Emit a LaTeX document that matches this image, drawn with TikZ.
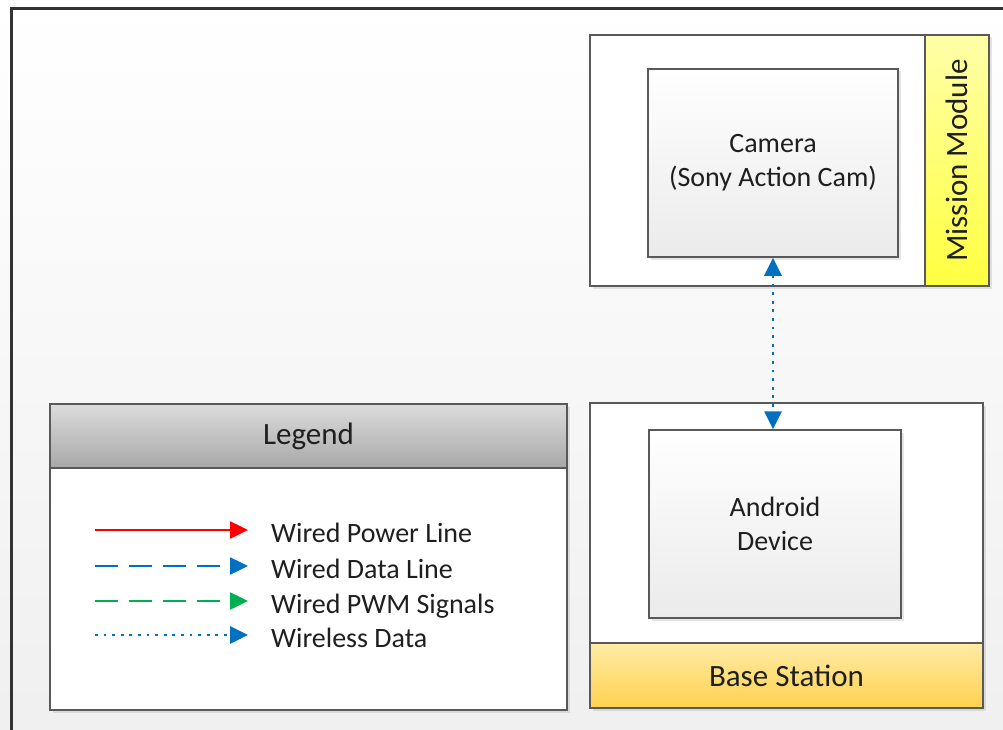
\documentclass[tikz,border=0pt]{standalone}
\usepackage{fontspec}
\setmainfont{Carlito}
\usetikzlibrary{arrows.meta,shadows}
\definecolor{linegray}{HTML}{595959}
\definecolor{txtgray}{HTML}{1F1F1F}
\definecolor{datablue}{HTML}{0070C0}
\definecolor{pwmgreen}{HTML}{00B050}
\definecolor{mmtop}{HTML}{FFFFA8}
\definecolor{mmbot}{HTML}{FFFF40}
\definecolor{bstop}{HTML}{FFEBA6}
\definecolor{bsbot}{HTML}{FFD24F}

\begin{document}
\begin{tikzpicture}[x=1pt,y=-1pt,
    font=\fontsize{28}{34}\selectfont, text=txtgray,
    tip/.style={-{Triangle[length=18pt,width=17pt]}},
    power/.style={tip,red,line width=2.5pt},
    wdata/.style={tip,datablue,line width=2.5pt,dash pattern=on 23pt off 11pt},
    pwm/.style={tip,pwmgreen,line width=2.5pt,dash pattern=on 23pt off 11pt},
    wless/.style={tip,datablue,line width=2.8pt,dash pattern=on 2.8pt off 5.8pt},
    shad/.style={drop shadow={shadow xshift=2.5pt,shadow yshift=-2.5pt,opacity=.2}},
    groupbox/.style={shad,draw=linegray,line width=1.5pt,fill=white},
    devbox/.style={shad,draw=linegray,line width=1.5pt,top color=white,bottom color=black!8,align=center},
    strip/.style={draw=linegray,line width=1.5pt,font=\fontsize{31}{37}\selectfont}]
    \useasboundingbox (0,0) rectangle (1003,730);
    \clip (0,0) rectangle (1003,730);
    \shade[top color=white,bottom color=black!6] (0,0) rectangle (1003,730);
    \draw[line width=3pt,black!80] (11,9) rectangle (1040,760);

    % mission module
    \node[groupbox,minimum width=399pt,minimum height=251pt] (mission) at (789.5,160.5) {};
    \node[strip,top color=mmtop,bottom color=mmbot,minimum width=64pt,minimum height=251pt] (missionlbl) at (957,160.5) {\rotatebox{90}{Mission Module}};
    \node[devbox,minimum width=250pt,minimum height=188pt] (camera) at (773,163) {Camera\\(Sony Action Cam)};

    % base station
    \node[groupbox,minimum width=393pt,minimum height=305pt] (base) at (786.5,555.5) {};
    \node[strip,top color=bstop,bottom color=bsbot,minimum width=393pt,minimum height=65pt] (baselbl) at (786.5,675.5) {Base Station};
    \node[devbox,minimum width=252pt,minimum height=188pt] (android) at (775,524) {Android\\Device};

    \draw[wless,{Triangle[length=18pt,width=17pt]}-{Triangle[length=18pt,width=17pt]}] (camera.south) -- (camera.south |- android.north);

    % legend
    \node[groupbox,minimum width=517pt,minimum height=306pt] (legend) at (308.5,557) {};
    \node[strip,top color=black!14,bottom color=black!34,minimum width=517pt,minimum height=64pt] (legendhead) at (308.5,436) {Legend};
    \foreach \yy/\sty/\lbl/\nm in {530/power/Wired Power Line/pw,566/wdata/Wired Data Line/wd,601/pwm/Wired PWM Signals/pm,635/wless/Wireless Data/wl} {
        \coordinate (\nm a) at (95,\yy);
        \coordinate (\nm b) at (248,\yy);
        \draw[\sty] (\nm a) -- (\nm b);
        \node[anchor=base west,inner sep=0pt] (\nm) at (271,\yy+12) {\lbl};
    }
\end{tikzpicture}
\end{document}
